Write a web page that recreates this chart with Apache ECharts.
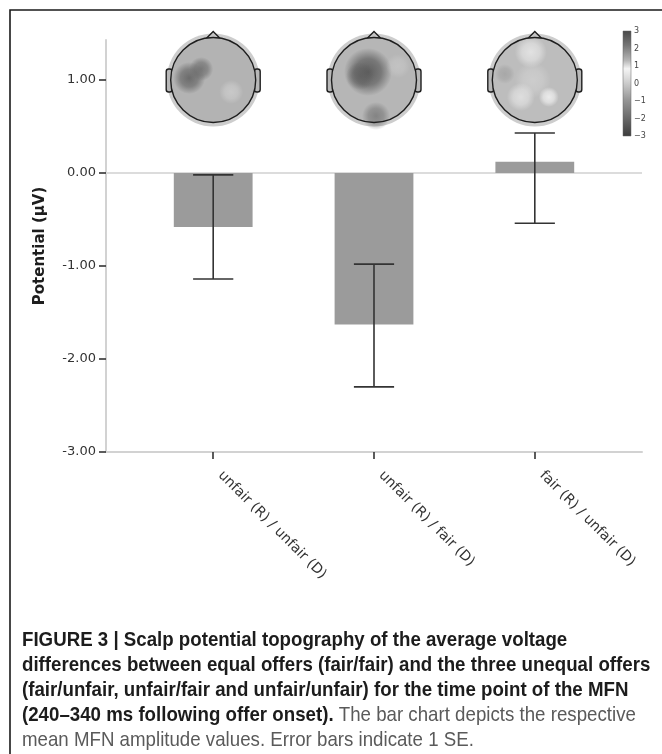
<!DOCTYPE html>
<html><head><meta charset="utf-8">
<script src="https://cdn.jsdelivr.net/npm/echarts@6/dist/echarts.min.js"></script>
<style>html,body{margin:0;padding:0;background:#fff}#c{width:662px;height:754px}</style>
</head><body><div id="c"></div>
<script>
// ---- data ----
const categories = ['unfair (R) / unfair (D)', 'unfair (R) / fair (D)', 'fair (R) / unfair (D)'];
const meanValues = [-0.58, -1.63, 0.12];
const errorLower = [-1.14, -2.30, -0.54];
const errorUpper = [-0.02, -0.98, 0.43];
const yTickValues = [-3, -2, -1, 0, 1];
const colorbarLabels = ['3', '2', '1', '0', '\u22121', '\u22122', '\u22123'];
const captionLines = [
  '{b|FIGURE 3 | Scalp potential topography of the average voltage}',
  '{b|differences between equal offers (fair/fair) and the three unequal offers}',
  '{b|(fair/unfair, unfair/fair and unfair/unfair) for the time point of the MFN}',
  '{b|(240\u2013340 ms following offer onset).}{r| The bar chart depicts the respective}',
  '{r|mean MFN amplitude values. Error bars indicate 1 SE.}'
];

// ---- decoration (topography heads) ----
const HEAD_Y = 1.0;
const headDecor = [
  { base: '#b3b3b3', blobs: [
      { dx: -24, dy: -2, r: 16, c: 'rgba(95,95,95,0.85)' },
      { dx: -12, dy: -11, r: 12, c: 'rgba(105,105,105,0.8)' },
      { dx: 18, dy: 12, r: 12, c: 'rgba(215,215,215,0.6)' }
  ]},
  { base: '#b6b6b6', blobs: [
      { dx: -6, dy: -8, r: 24, c: 'rgba(85,85,85,0.9)' },
      { dx: -14, dy: -4, r: 14, c: 'rgba(90,90,90,0.6)' },
      { dx: 2, dy: 36, r: 14, c: 'rgba(110,110,110,0.7)' },
      { dx: 24, dy: -14, r: 12, c: 'rgba(210,210,210,0.45)' }
  ]},
  { base: '#bdbdbd', blobs: [
      { dx: -4, dy: -28, r: 16, c: 'rgba(232,232,232,0.85)' },
      { dx: -2, dy: 0, r: 18, c: 'rgba(215,215,215,0.6)' },
      { dx: -14, dy: 17, r: 14, c: 'rgba(228,228,228,0.85)' },
      { dx: 14, dy: 17, r: 10, c: 'rgba(240,240,240,0.9)' },
      { dx: -30, dy: -6, r: 10, c: 'rgba(150,150,150,0.55)' }
  ]}
];

const FONT = "'DejaVu Sans', sans-serif";
const CAP_FONT = "'Liberation Sans', Arial, sans-serif";
const chart = echarts.init(document.getElementById('c'), null, { renderer: 'canvas' });

function renderBar(params, api) {
  const x = api.value(0), v = api.value(1);
  const w = api.size([1, 0])[0] * 0.49;
  const p0 = api.coord([x, 0]);
  const p1 = api.coord([x, v]);
  const top = Math.min(p0[1], p1[1]);
  return { type: 'rect', shape: { x: p0[0] - w / 2, y: top, width: w, height: Math.abs(p1[1] - p0[1]) },
           style: { fill: '#9b9b9b' } };
}

function renderErr(params, api) {
  const x = api.value(0);
  const lo = api.coord([x, api.value(1)]);
  const hi = api.coord([x, api.value(2)]);
  const cw = api.size([1, 0])[0] * 0.125;
  const st = { stroke: '#333', lineWidth: 1.6 };
  return { type: 'group', children: [
    { type: 'line', shape: { x1: lo[0], y1: lo[1], x2: hi[0], y2: hi[1] }, style: st },
    { type: 'line', shape: { x1: lo[0] - cw, y1: lo[1], x2: lo[0] + cw, y2: lo[1] }, style: st },
    { type: 'line', shape: { x1: hi[0] - cw, y1: hi[1], x2: hi[0] + cw, y2: hi[1] }, style: st }
  ]};
}

function fade(c, k) { return c.replace(/[\d.]+\)$/, m => (parseFloat(m) * k).toFixed(2) + ')'); }

function renderHead(params, api) {
  const i = api.value(0);
  const p = api.coord([i, HEAD_Y]);
  const cx = p[0], cy = p[1];
  const R = 42.5;
  const d = headDecor[i];
  const ink = { stroke: '#1e1e1e', lineWidth: 1.4 };
  const children = [];
  children.push({ type: 'circle', shape: { cx, cy, r: R + 4 }, style: { fill: '#cdcdcd' } });
  children.push({ type: 'rect', shape: { x: cx - R - 4.5, y: cy - 11, width: 6, height: 23, r: 2.5 }, style: Object.assign({ fill: '#b8b8b8' }, ink) });
  children.push({ type: 'rect', shape: { x: cx + R - 1.5, y: cy - 11, width: 6, height: 23, r: 2.5 }, style: Object.assign({ fill: '#b8b8b8' }, ink) });
  children.push({ type: 'polygon', shape: { points: [[cx - 7, cy - R + 1], [cx, cy - R - 6], [cx + 7, cy - R + 1]] }, style: Object.assign({ fill: '#c4c4c4' }, ink) });
  children.push({ type: 'circle', shape: { cx, cy, r: R }, style: { fill: d.base } });
  d.blobs.forEach(b => {
    children.push({ type: 'circle', shape: { cx: cx + b.dx, cy: cy + b.dy, r: b.r },
      style: { fill: { type: 'radial', x: 0.5, y: 0.5, r: 0.5, colorStops: [
        { offset: 0, color: b.c }, { offset: 0.55, color: fade(b.c, 0.7) }, { offset: 1, color: fade(b.c, 0) } ] } } });
  });
  children.push({ type: 'circle', shape: { cx, cy, r: R }, style: Object.assign({ fill: null }, ink) });
  return { type: 'group', children };
}

const cbTop = 31, cbH = 105;
const graphics = [
  { type: 'rect', shape: { x: 10, y: 10, width: 700, height: 800 }, style: { fill: null, stroke: '#1a1a1a', lineWidth: 1.6 }, silent: true, z: 0 },
  { type: 'rect', shape: { x: 623, y: cbTop, width: 8, height: cbH },
    style: { fill: { type: 'linear', x: 0, y: 0, x2: 0, y2: 1, colorStops: [
      { offset: 0, color: '#484848' }, { offset: 0.14, color: '#767676' }, { offset: 0.28, color: '#b5b5b5' },
      { offset: 0.36, color: '#f4f4f4' }, { offset: 0.44, color: '#dedede' }, { offset: 0.52, color: '#c4c4c4' },
      { offset: 0.66, color: '#959595' }, { offset: 0.82, color: '#6c6c6c' }, { offset: 1, color: '#3c3c3c' } ] },
      stroke: '#666', lineWidth: 0.5 } }
];
colorbarLabels.forEach((t, k) => {
  graphics.push({ type: 'text', x: 634, y: cbTop + k * cbH / 6, style: { text: t, font: '8px ' + FONT, fill: '#444', textVerticalAlign: 'middle' } });
});
captionLines.forEach((t, k) => {
  graphics.push({ type: 'text', x: 22, y: 640 + k * 25, scaleX: 0.89, style: {
    text: t, textVerticalAlign: 'middle', rich: {
      b: { fontFamily: CAP_FONT, fontWeight: 'bold', fontSize: 21, fill: '#1c1c1c' },
      r: { fontFamily: CAP_FONT, fontSize: 21, fill: '#5a5a5a' }
    } } });
});

const option = {
  animation: false,
  backgroundColor: '#fff',
  grid: { left: 106, right: 20, top: 40, bottom: 302 },
  xAxis: {
    type: 'value', min: -2 / 3, max: 8 / 3,
    axisLine: { show: true, onZero: false, lineStyle: { color: '#d2d2d2', width: 2 } },
    axisTick: { show: true, customValues: [0, 1, 2], length: 7, lineStyle: { color: '#333', width: 1.6 } },
    axisLabel: { customValues: [0, 1, 2], formatter: v => categories[Math.round(v)], rotate: -45, margin: 14,
                 padding: [0, 0, 0, 10], fontFamily: FONT, fontSize: 14, color: '#333' },
    splitLine: { show: false }
  },
  yAxis: {
    type: 'value', min: -3, max: 1.43,
    name: 'Potential (\u00b5V)', nameLocation: 'middle', nameGap: 58,
    nameTextStyle: { fontFamily: FONT, fontWeight: 'bold', fontSize: 15, color: '#1e1e1e' },
    axisLine: { show: true, onZero: false, lineStyle: { color: '#d2d2d2', width: 2 } },
    axisTick: { show: true, customValues: yTickValues, length: 7, lineStyle: { color: '#333', width: 1.6 } },
    axisLabel: { customValues: yTickValues, formatter: v => v.toFixed(2), margin: 10, fontFamily: FONT, fontSize: 13, color: '#333' },
    splitLine: { show: false }
  },
  graphic: graphics,
  series: [
    { type: 'custom', name: 'mean', renderItem: renderBar, data: meanValues.map((v, i) => [i, v]), z: 3,
      markLine: { silent: true, symbol: 'none', label: { show: false }, data: [{ yAxis: 0 }],
                  lineStyle: { color: '#dcdcdc', width: 2, type: 'solid' }, z: 1 } },
    { type: 'custom', name: 'se', renderItem: renderErr, data: errorLower.map((v, i) => [i, v, errorUpper[i]]), z: 4 },
    { type: 'custom', name: 'topo', renderItem: renderHead, clip: false, data: categories.map((c, i) => [i, HEAD_Y]), z: 5 }
  ]
};
chart.setOption(option);
</script>
</body></html>
